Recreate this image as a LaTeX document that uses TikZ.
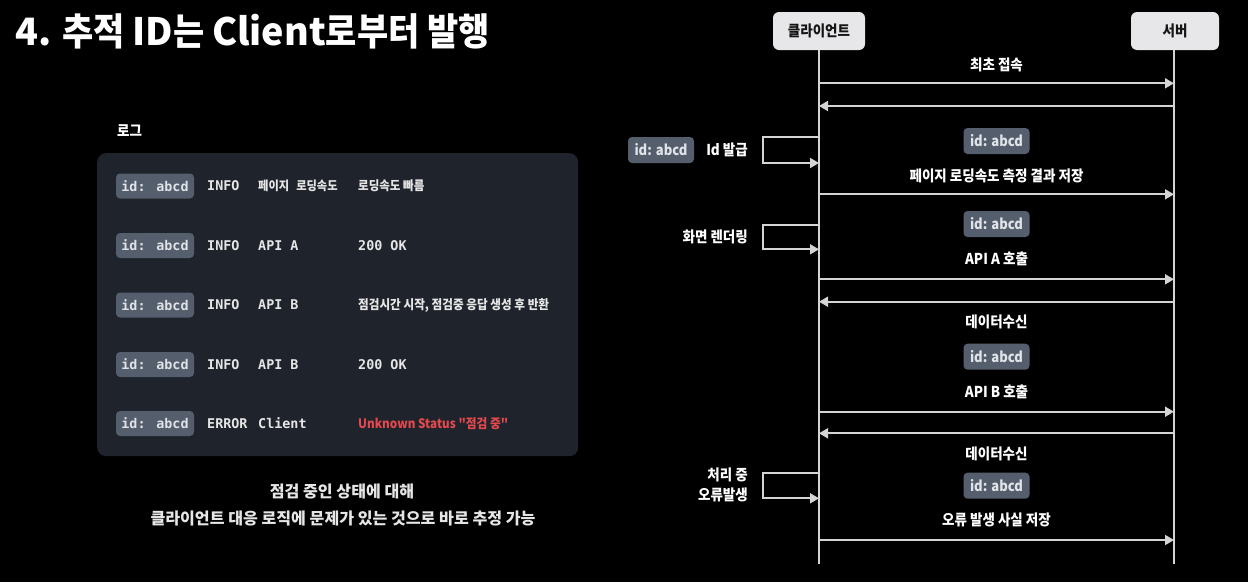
\documentclass[tikz,border=0pt]{standalone}
\usepackage{fontspec}
\setmainfont{Noto Sans CJK KR}[FakeStretch=0.9]
\newfontfamily\titlekr{Noto Sans CJK KR}[FakeStretch=0.9]
\newfontfamily\latf{Noto Sans CJK KR}
\newfontfamily\quotef{Noto Sans CJK KR}[FakeStretch=0.9,Ligatures=TeXOff]
\newfontfamily\monof{DejaVu Sans Mono}
\usetikzlibrary{arrows.meta}
\definecolor{panelc}{HTML}{1F242C}
\definecolor{tagc}{HTML}{555E6C}
\definecolor{tagtxt}{HTML}{E0E3E8}
\definecolor{txtc}{HTML}{E6E6E6}
\definecolor{errred}{HTML}{E5484D}
\definecolor{lifec}{HTML}{D4D4D4}
\definecolor{headc}{HTML}{E7E7EA}
\definecolor{headtxt}{HTML}{151515}
\tikzset{
  logtag/.style={fill=tagc, rounded corners=4pt, minimum width=78pt, minimum height=25pt, inner sep=0pt, text=tagtxt, font=\monof\bfseries\fontsize{13.4}{16}\selectfont},
  logm/.style={anchor=west, inner sep=0pt, text=txtc, font=\monof\bfseries\fontsize{13.4}{16}\selectfont},
  logk/.style={anchor=west, inner sep=0pt, text=txtc, font=\bfseries\fontsize{12.5}{15}\selectfont},
  headbox/.style={fill=headc, rounded corners=6pt, minimum height=38pt, inner sep=0pt, text=headtxt, font=\bfseries\fontsize{15}{18}\selectfont},
  life/.style={draw=lifec, line width=1.8pt},
  msg/.style={draw=lifec, line width=1.8pt, -{Triangle[length=9pt,width=10pt]}},
  lbl/.style={inner sep=0pt, text=white, font=\bfseries\fontsize{15}{18}\selectfont},
  stag/.style={fill=tagc, rounded corners=4pt, minimum width=66pt, minimum height=26pt, inner sep=0pt, text=tagtxt, font=\bfseries\fontsize{14.5}{18}\selectfont},
  capt/.style={inner sep=0pt, text=txtc, font=\latf\bfseries\fontsize{16.1}{19}\selectfont}
}
\begin{document}
\begin{tikzpicture}[x=1pt,y=-1pt]
\useasboundingbox (0,0) rectangle (1248,582);
\fill[black] (0,0) rectangle (1248,582);

% title
\node[anchor=base west, inner sep=0pt, text=white, font=\bfseries\fontsize{37.7}{40}\selectfont] (title) at (15.5,45)
  {{\latf 4.} {\titlekr 추적} {\latf ID}{\titlekr 는} {\latf Client}{\titlekr 로부터 발행}};

% log panel
\node[anchor=west, inner sep=0pt, text=white, font=\bfseries\fontsize{15}{18}\selectfont] (loglbl) at (117,131) {로그};
\node[fill=panelc, rounded corners=9pt, minimum width=481pt, minimum height=303pt, anchor=north west, inner sep=0pt] (panel) at (97,153) {};

\node[logtag] (t1) at (155,186) {id: abcd};
\node[logm] (l1a) at (207,186) {INFO};
\node[logk] (l1b) at (258,186) {페이지\hspace{7pt}로딩속도};
\node[logk, font=\bfseries\fontsize{12.8}{15}\selectfont] (l1c) at (358,186) {로딩속도 빠름};

\node[logtag] (t2) at (155,245.5) {id: abcd};
\node[logm] (l2a) at (207,245.5) {INFO};
\node[logm] (l2b) at (258,245.5) {API A};
\node[logm] (l2c) at (358,245.5) {200 OK};

\node[logtag] (t3) at (155,305) {id: abcd};
\node[logm] (l3a) at (207,305) {INFO};
\node[logm] (l3b) at (258,305) {API B};
\node[logk, font=\bfseries\fontsize{12.9}{15}\selectfont] (l3c) at (358,305) {점검시간 시작, 점검중 응답 생성 후 반환};

\node[logtag] (t4) at (155,364.5) {id: abcd};
\node[logm] (l4a) at (207,364.5) {INFO};
\node[logm] (l4b) at (258,364.5) {API B};
\node[logm] (l4c) at (358,364.5) {200 OK};

\node[logtag] (t5) at (155,423.5) {id: abcd};
\node[logm] (l5a) at (207,423.5) {ERROR};
\node[logm] (l5b) at (258,423.5) {Client};
\node[logk, text=errred, font=\quotef\bfseries\fontsize{13}{16}\selectfont] (l5c) at (358,423.5) {Unknown Status "점검 중"};

% caption
\node[capt] (cap1) at (342,491) {점검 중인 상태에 대해};
\node[capt] (cap2) at (343,518) {클라이언트 대응 로직에 문제가 있는 것으로 바로 추정 가능};

% sequence headers
\node[headbox, minimum width=92pt] (client) at (819,31) {클라이언트};
\node[headbox, minimum width=88pt] (server) at (1175,31) {서버};
\coordinate (clientEnd) at (819,564);
\coordinate (serverTop) at (1174,50);
\coordinate (serverEnd) at (1174,564);
\draw[life] (client.south) -- (clientEnd);
\draw[life] (serverTop) -- (serverEnd);

% message coordinates
\foreach \n/\y in {m1/83.3, m2/106, m3/194.3, m4/279.3, m5/301.7, m6/411.7, m7/433.3, m8/540}{
  \coordinate (c\n) at (819,\y);
  \coordinate (s\n) at (1174,\y);
}
\draw[msg] (cm1) -- (sm1);
\draw[msg] (sm2) -- (cm2);
\draw[msg] (cm3) -- (sm3);
\draw[msg] (cm4) -- (sm4);
\draw[msg] (sm5) -- (cm5);
\draw[msg] (cm6) -- (sm6);
\draw[msg] (sm7) -- (cm7);
\draw[msg] (cm8) -- (sm8);

% self calls
\foreach \n/\ya/\yb in {k1/137/163, k2/224.7/249.3, k3/472.7/498.3}{
  \coordinate (\n a) at (819,\ya);
  \coordinate (\n b) at (763,\ya);
  \coordinate (\n c) at (763,\yb);
  \coordinate (\n d) at (819,\yb);
}
\draw[msg] (k1a) -- (k1b) -- (k1c) -- (k1d);
\draw[msg] (k2a) -- (k2b) -- (k2c) -- (k2d);
\draw[msg] (k3a) -- (k3b) -- (k3c) -- (k3d);

% labels
\node[lbl] (lab1) at (996.5,65) {최초 접속};
\node[stag] (st1) at (996.5,141) {id: abcd};
\node[lbl] (lab2) at (996.5,176) {페이지 로딩속도 측정 결과 저장};
\node[stag] (st2) at (996.5,224) {id: abcd};
\node[lbl] (lab3) at (996.5,259) {API A 호출};
\node[lbl] (lab4) at (996.5,322.3) {데이터수신};
\node[stag] (st3) at (996.5,356.7) {id: abcd};
\node[lbl] (lab5) at (996.5,391.7) {API B 호출};
\node[lbl] (lab6) at (996.5,454) {데이터수신};
\node[stag] (st4) at (996.5,485.7) {id: abcd};
\node[lbl] (lab7) at (996.5,520) {오류 발생 사실 저장};

% left side labels
\node[stag] (lt) at (661,150) {id: abcd};
\node[lbl, anchor=east] (sl1) at (748,150) {Id 발급};
\node[lbl, anchor=east] (sl2) at (748,236.7) {화면 렌더링};
\node[lbl, anchor=east, align=right, font=\bfseries\fontsize{15}{20}\selectfont] (sl3) at (748,484.5) {처리 중\\오류발생};
\end{tikzpicture}
\end{document}
